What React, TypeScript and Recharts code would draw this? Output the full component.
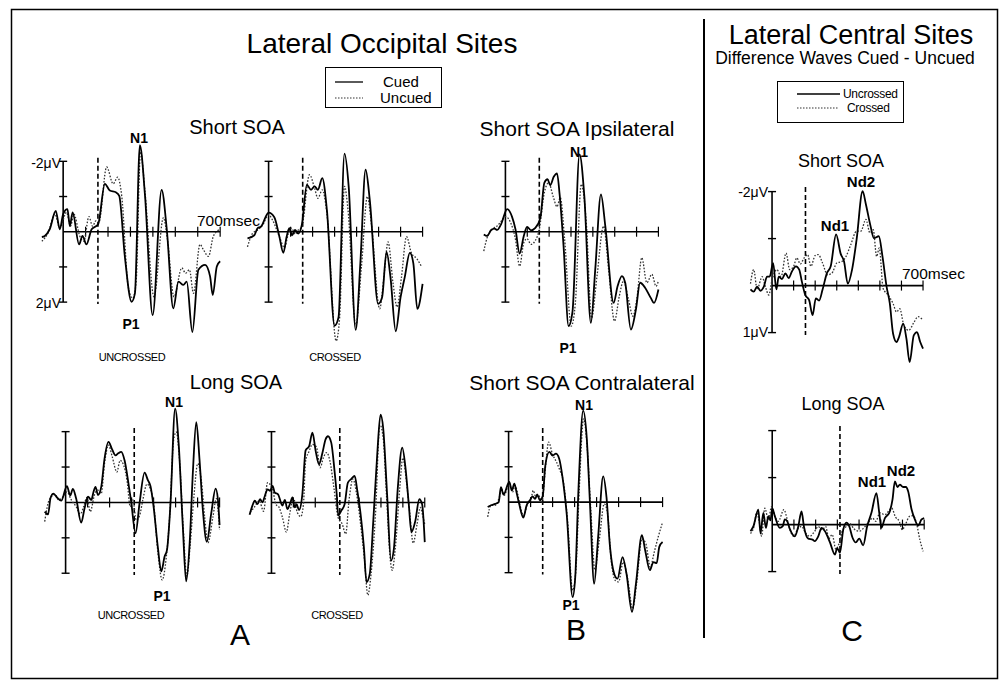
import React from 'react';
import { LineChart, Line, XAxis, YAxis, ReferenceLine } from 'recharts';

type Pt = [number, number];

// ---------- data (time in ms, amplitude in microvolts; negative plotted up) ----------
const timeTicks = [0, 100, 200, 300, 400, 500, 600, 700];
const occipitalVoltTicks = [-2, -1, 1, 2];
const centralVoltTicks = [-2, -1, 1];
const shortSoaMs = 155;
const longSoaMs = 312;

const shortUncrossedCued: Pt[] = [[-95,0.15],[-82,0.12],[-60,-0.07],[-33,-0.59],[-15,-0.07],[0,-0.5],[19,-0.64],[30,-0.16],[42,-0.55],[71,0.36],[86,0.12],[104,0.36],[127,-0.07],[156,-0.21],[186,-1.36],[208,-1.17],[235,-1.12],[250,-1.02],[275,0.7],[305,1.99],[320,1.75],[342,-2.46],[365,-1.02],[399,2.37],[439,-1.19],[462,-0.07],[491,2.18],[514,1.42],[536,1.51],[551,1.42],[576,2.85],[603,1.08],[633,0.94],[655,1.27],[667,1.8],[685,0.99],[700,0.84]];
const shortUncrossedUncued: Pt[] = [[-95,0.27],[-67,0.03],[-37,-0.5],[-15,-0.11],[15,-0.55],[33,-0.16],[48,-0.5],[74,0.12],[92,0.27],[115,-0.43],[131,-0.16],[146,-0.31],[159,-0.26],[194,-1.84],[223,-1.36],[243,-1.55],[261,-1.02],[290,1.56],[310,1.89],[325,1.46],[345,-2.27],[365,-1.12],[405,1.85],[447,-0.4],[465,0.22],[494,1.85],[529,1.03],[546,1.18],[563,1.08],[581,1.75],[610,0.36],[625,0.51],[648,0.7],[670,0.12],[700,-0.07]];

const shortCrossedCued: Pt[] = [[-96,0.19],[-65,0.1],[-50,-0.1],[-35,-0.14],[0,-0.54],[26,-0.41],[49,0.14],[67,0.6],[82,0.14],[94,-0.1],[107,0.1],[120,-0.05],[135,0.05],[151,-0.19],[174,-1.33],[193,-1.19],[209,-1.29],[224,-1.19],[244,-1.52],[265,-0.62],[300,2.67],[318,2.43],[345,-2.22],[364,-1.29],[396,2.79],[417,0.9],[441,-1.76],[460,-0.9],[498,2.05],[516,1.86],[536,0.57],[554,1.29],[578,2.83],[600,1.86],[619,1.29],[642,0.6],[658,0.9],[676,2.19],[700,1.48]];
const shortCrossedUncued: Pt[] = [[-96,0.43],[-73,0.05],[-50,-0.05],[-27,-0.19],[0,-0.48],[18,-0.33],[49,0.14],[72,0.45],[90,0.05],[105,-0.1],[120,0.07],[135,-0.05],[151,-0.14],[186,-1.62],[209,-1.24],[224,-0.95],[244,-1.19],[265,-0.52],[307,3.1],[323,2.43],[345,-1.29],[361,-0.62],[396,2.67],[422,1.0],[449,-1.0],[467,-0.24],[505,2.19],[524,1.29],[543,0.29],[566,1.48],[584,2.14],[604,1.29],[627,0.14],[650,0.62],[673,0.76],[696,1.0]];

const ipsilateralCued: Pt[] = [[-99,0.08],[-84,0.12],[-65,-0.05],[-50,-0.09],[-38,-0.05],[-20,-0.21],[8,-0.64],[30,-0.43],[46,-0.07],[65,0.62],[84,0.12],[99,-0.14],[117,-0.04],[137,-0.11],[160,-0.4],[178,-1.39],[193,-1.49],[205,-1.32],[221,-1.56],[236,-1.66],[248,-1.06],[266,0.41],[289,2.68],[307,2.26],[339,-2.2],[361,-1.01],[391,2.59],[411,1.07],[437,-1.06],[457,-0.16],[495,2.02],[513,1.55],[533,1.26],[548,1.45],[574,2.78],[597,2.21],[616,1.45],[639,1.59],[665,1.88],[680,2.02],[700,1.64]];
const ipsilateralUncued: Pt[] = [[-99,0.55],[-81,0.12],[-61,-0.07],[-38,-0.16],[-15,-0.33],[0,-0.43],[23,-0.27],[46,0.22],[65,0.98],[84,0.31],[99,0.2],[117,0.36],[137,0.25],[155,-0.07],[178,-1.11],[198,-1.39],[218,-1.01],[236,-0.71],[251,-0.97],[271,0.22],[301,2.68],[320,2.02],[347,-1.35],[370,-0.26],[394,2.45],[419,1.26],[449,-0.16],[472,1.07],[499,2.54],[521,1.83],[540,1.4],[563,1.92],[583,2.4],[601,1.92],[624,0.74],[647,1.45],[670,1.21],[689,1.55],[700,1.4]];

const centralShortUncrossed: Pt[] = [[-100,0.08],[-85,0.13],[-69,0.02],[-54,0.11],[-38,0.02],[-23,-0.19],[-11,-0.19],[5,-0.48],[20,0.08],[31,-0.19],[46,-0.14],[62,-0.26],[77,-0.16],[92,-0.3],[111,-0.41],[126,-0.34],[138,-0.09],[154,0.2],[172,0.31],[188,0.63],[203,0.27],[218,0.32],[234,0.09],[254,-0.26],[272,-0.41],[297,-1.09],[318,-0.68],[334,-0.51],[351,-0.04],[371,-0.34],[392,-0.98],[420,-2.01],[435,-1.73],[457,-1.26],[472,-1.01],[495,-1.05],[512,-0.62],[531,0.02],[546,0.38],[561,1.02],[577,1.2],[589,1.09],[608,0.81],[623,1.13],[638,1.63],[657,1.06],[672,0.99],[687,1.2],[700,1.34]];
const centralShortCrossed: Pt[] = [[-100,-0.04],[-85,-0.34],[-69,0.08],[-46,-0.19],[-31,0.02],[-15,0.2],[0,-0.12],[23,-0.34],[42,-0.19],[65,-0.69],[82,-0.34],[100,-0.41],[115,-0.59],[131,-0.46],[149,-0.59],[165,-0.66],[180,-0.41],[200,-0.64],[215,-0.66],[234,-0.48],[257,-0.23],[277,-0.26],[300,-0.48],[323,-0.51],[343,-0.62],[365,-0.87],[392,-1.16],[412,-1.16],[435,-1.41],[454,-1.12],[469,-1.19],[485,-0.62],[497,-0.8],[515,0.06],[538,0.2],[561,0.38],[577,0.56],[592,0.49],[611,0.84],[634,0.95],[657,0.79],[677,0.66],[697,0.72]];

const longUncrossedCued: Pt[] = [[-95,0.26],[-80,0.34],[-68,-0.14],[-55,-0.25],[-39,-0.14],[-20,-0.05],[6,-0.46],[21,-0.2],[33,-0.38],[48,-0.11],[71,0.57],[86,0.17],[102,-0.16],[117,-0.07],[127,-0.3],[136,-0.44],[147,-0.21],[162,-0.44],[177,-1.24],[195,-1.71],[212,-1.49],[227,-1.33],[238,-1.38],[253,-1.43],[268,-1.19],[288,-0.44],[298,-0.02],[318,0.87],[336,0.03],[359,-0.84],[374,-0.63],[386,-0.46],[400,0.12],[420,1.3],[435,1.95],[450,1.53],[461,1.34],[476,0.12],[498,-2.65],[514,-1.66],[533,0.69],[548,2.23],[564,1.15],[579,-0.91],[594,-2.27],[609,-1.19],[624,0.22],[642,1.11],[662,0.31],[682,-0.39],[692,-0.11],[700,0.64]];
const longUncrossedUncued: Pt[] = [[-95,0.54],[-80,0.03],[-62,-0.18],[-47,-0.23],[-32,-0.07],[-12,-0.16],[6,-0.3],[26,-0.07],[48,0.12],[67,0.33],[82,0.12],[97,-0.14],[112,0.26],[132,-0.23],[147,-0.35],[162,-0.25],[177,-1.1],[195,-1.62],[212,-1.29],[233,-0.86],[248,-1.19],[264,-1.05],[279,-0.63],[294,0.12],[306,-0.07],[321,0.5],[336,0.38],[351,-0.07],[370,-0.52],[385,-0.39],[400,0.03],[420,1.44],[439,2.19],[458,1.53],[473,0.4],[491,-1.76],[503,-1.99],[518,-1.19],[536,0.87],[551,2.09],[567,1.15],[582,-0.07],[601,-1.1],[617,-0.63],[632,0.4],[647,1.14],[670,0.4],[685,-0.11],[700,0.78]];

const longCrossedCued: Pt[] = [[-100,0.35],[-87,0.09],[-76,-0.05],[-64,0.05],[-52,-0.09],[-41,0.0],[-30,-0.19],[-18,-0.37],[-6,-0.33],[5,-0.47],[15,-0.28],[30,-0.23],[50,0.09],[61,-0.07],[73,0.19],[85,0.03],[96,-0.14],[106,0.14],[115,0.05],[126,0.22],[141,-0.23],[156,-1.47],[172,-1.59],[187,-1.97],[202,-1.45],[217,-1.08],[232,-1.38],[247,-1.78],[258,-1.87],[273,-1.69],[288,-0.89],[298,-0.23],[305,0.37],[319,0.23],[334,0.05],[349,-0.56],[364,-0.66],[380,-0.75],[392,-0.33],[407,0.33],[422,1.26],[434,2.25],[449,2.01],[465,0.52],[483,-1.36],[498,-2.48],[510,-2.11],[528,-0.23],[546,1.64],[559,1.31],[577,-0.42],[597,-1.55],[612,-0.98],[627,0.05],[639,0.84],[657,0.52],[675,-0.09],[688,0.05],[700,1.12]];
const longCrossedUncued: Pt[] = [[-97,0.28],[-79,0.14],[-56,-0.05],[-36,0.25],[-18,-0.56],[5,-0.37],[20,0.05],[35,0.14],[50,0.42],[68,0.84],[83,0.33],[100,-0.12],[118,0.28],[134,0.4],[146,0.05],[156,-1.17],[172,-1.45],[187,-1.64],[206,-1.56],[222,-0.98],[237,-1.26],[252,-1.41],[267,-1.17],[285,-0.42],[304,0.42],[323,0.61],[339,0.89],[354,-0.05],[372,-0.66],[389,-0.23],[407,0.61],[425,1.64],[440,2.62],[455,2.01],[475,0.33],[495,-2.2],[510,-1.83],[525,-0.23],[543,1.64],[551,1.92],[566,1.26],[586,-0.42],[600,-1.26],[616,-0.61],[632,0.33],[647,1.15],[665,0.61],[680,0.14],[692,0.42],[700,0.61]];

const contralateralCued: Pt[] = [[-95,0.14],[-80,0.09],[-61,0.05],[-45,0.0],[-35,-0.42],[-23,-0.21],[3,-0.57],[15,-0.33],[26,-0.52],[36,-0.28],[48,0.05],[67,0.44],[82,0.09],[97,-0.05],[109,-0.16],[121,-0.09],[130,-0.22],[142,-0.05],[155,-0.16],[167,-1.04],[185,-1.42],[200,-1.32],[215,-1.37],[230,-1.23],[245,-0.71],[264,0.33],[291,2.69],[303,2.12],[318,-0.42],[339,-2.59],[355,-1.84],[370,0.05],[389,2.31],[407,0.99],[430,-0.73],[445,-0.14],[461,1.27],[480,2.03],[495,2.17],[518,1.56],[536,2.03],[561,3.11],[579,2.31],[606,0.94],[621,1.37],[642,1.93],[658,1.7],[673,1.73],[685,1.27],[700,1.13]];
const contralateralUncued: Pt[] = [[-95,0.42],[-80,0.09],[-61,0.09],[-42,-0.14],[-32,-0.38],[-20,-0.19],[3,-0.52],[18,-0.28],[29,-0.47],[41,-0.24],[52,0.09],[68,0.38],[86,0.05],[102,-0.09],[112,-0.33],[124,-0.14],[136,-0.19],[152,0.0],[167,-0.94],[182,-1.7],[200,-1.35],[218,-1.13],[233,-0.9],[248,-0.61],[268,0.52],[291,2.5],[306,1.93],[321,-0.33],[341,-2.36],[356,-1.65],[374,0.24],[392,1.93],[412,1.08],[435,0.05],[450,0.33],[465,1.56],[485,2.22],[500,2.26],[521,1.7],[541,2.17],[564,3.02],[582,2.31],[606,1.04],[624,1.18],[644,1.84],[662,1.42],[680,0.99],[700,0.57]];

const centralLongUncrossed: Pt[] = [[-100,0.14],[-87,0.04],[-64,-0.32],[-54,0.19],[-41,-0.25],[-29,0.07],[-18,-0.18],[-8,-0.09],[0,-0.35],[12,-0.18],[35,0.07],[48,0.04],[58,-0.11],[69,-0.07],[81,0.09],[104,0.25],[120,0.04],[135,-0.28],[146,0.04],[166,0.3],[186,0.32],[196,0.35],[212,0.25],[227,0.07],[243,0.14],[266,0.38],[289,0.64],[299,0.5],[312,0.6],[327,0.11],[342,-0.04],[355,0.04],[370,0.28],[385,0.38],[401,0.3],[419,0.44],[437,0.04],[457,-0.25],[480,-0.67],[493,-0.25],[503,0.07],[519,-0.14],[539,-0.25],[554,-0.53],[565,-0.92],[577,-0.8],[588,-0.85],[603,-0.8],[616,-0.8],[626,-0.71],[642,-0.32],[657,-0.11],[672,0.02],[688,-0.11],[700,-0.14]];
const centralLongCrossed: Pt[] = [[-100,0.19],[-84,0.04],[-72,-0.25],[-60,-0.07],[-49,0.25],[-34,-0.35],[-18,-0.11],[-3,-0.38],[12,-0.18],[28,-0.07],[54,-0.32],[69,-0.11],[84,0.14],[100,0.25],[115,0.11],[135,0.04],[155,0.19],[173,0.25],[196,0.14],[212,0.04],[230,0.11],[246,0.04],[261,0.3],[276,0.21],[293,0.52],[309,0.39],[324,0.12],[342,0.04],[358,-0.02],[376,0.09],[401,0.14],[422,0.07],[442,-0.04],[462,-0.14],[477,-0.07],[496,-0.25],[519,-0.21],[550,-0.35],[568,-0.16],[585,-0.07],[599,0.11],[611,0.02],[634,-0.18],[649,-0.19],[664,-0.04],[680,0.32],[695,0.57]];

// ---------- layout ----------
const FONT = '"Liberation Sans", Arial, Helvetica, sans-serif';

type PanelCfg = {
  x0: number; y0: number; sx: number; sy: number;
  vMin: number; vMax: number; axisBottom: number; vTicks: number[];
  soa: number; solid: Pt[]; dotted: Pt[];
};

const panels: PanelCfg[] = [
  { x0: 63, y0: 232, sx: 0.2243, sy: 35.2, vMin: -3.6, vMax: 3.6, axisBottom: 2, vTicks: occipitalVoltTicks, soa: shortSoaMs, solid: shortUncrossedCued, dotted: shortUncrossedUncued },
  { x0: 269, y0: 232, sx: 0.22, sy: 35.2, vMin: -3.6, vMax: 3.6, axisBottom: 2, vTicks: occipitalVoltTicks, soa: shortSoaMs, solid: shortCrossedCued, dotted: shortCrossedUncued },
  { x0: 505, y0: 232, sx: 0.2186, sy: 35.2, vMin: -3.6, vMax: 3.6, axisBottom: 2, vTicks: occipitalVoltTicks, soa: shortSoaMs, solid: ipsilateralCued, dotted: ipsilateralUncued },
  { x0: 772, y0: 286, sx: 0.2157, sy: 47, vMin: -2.8, vMax: 2.2, axisBottom: 1, vTicks: centralVoltTicks, soa: shortSoaMs, solid: centralShortUncrossed, dotted: centralShortCrossed },
  { x0: 66, y0: 502, sx: 0.22, sy: 35.4, vMin: -3.6, vMax: 3.6, axisBottom: 2, vTicks: occipitalVoltTicks, soa: longSoaMs, solid: longUncrossedCued, dotted: longUncrossedUncued },
  { x0: 271, y0: 502, sx: 0.219, sy: 35.4, vMin: -3.6, vMax: 3.6, axisBottom: 2, vTicks: occipitalVoltTicks, soa: longSoaMs, solid: longCrossedCued, dotted: longCrossedUncued },
  { x0: 509, y0: 502, sx: 0.22, sy: 35.3, vMin: -3.6, vMax: 3.6, axisBottom: 2, vTicks: occipitalVoltTicks, soa: shortSoaMs, solid: contralateralCued, dotted: contralateralUncued },
  { x0: 772, y0: 525, sx: 0.2171, sy: 47, vMin: -2.8, vMax: 2.2, axisBottom: 1, vTicks: centralVoltTicks, soa: longSoaMs, solid: centralLongUncrossed, dotted: centralLongCrossed },
];

const toRows = (pts: Pt[]) => pts.map(([t, v]) => ({ t, v }));

function Panel({ cfg }: { cfg: PanelCfg }) {
  const tMin = -130;
  const tMax = 730;
  const width = (tMax - tMin) * cfg.sx;
  const height = (cfg.vMax - cfg.vMin) * cfg.sy;
  const left = cfg.x0 + tMin * cfg.sx;
  const top = cfg.y0 + cfg.vMin * cfg.sy;
  const tickV = 5 / cfg.sy;
  const tickT = 4 / cfg.sx;
  return (
    <div style={{ position: 'absolute', left, top, width, height }}>
      <LineChart width={width} height={height} margin={{ top: 0, right: 0, bottom: 0, left: 0 }}>
        <XAxis type="number" dataKey="t" domain={[tMin, tMax]} hide allowDataOverflow />
        <YAxis type="number" dataKey="v" domain={[cfg.vMin, cfg.vMax]} reversed hide allowDataOverflow />
        <ReferenceLine segment={[{ x: 0, y: 0 }, { x: 700, y: 0 }]} stroke="#000" strokeWidth={1.6} ifOverflow="visible" />
        <ReferenceLine segment={[{ x: 0, y: -2 }, { x: 0, y: cfg.axisBottom }]} stroke="#000" strokeWidth={1.6} ifOverflow="visible" />
        {timeTicks.filter((t) => t > 0).map((t) => (
          <ReferenceLine key={'xt' + t} segment={[{ x: t, y: -tickV }, { x: t, y: tickV }]} stroke="#000" strokeWidth={1.2} ifOverflow="visible" />
        ))}
        {cfg.vTicks.map((v) => (
          <ReferenceLine key={'yt' + v} segment={[{ x: -tickT, y: v }, { x: tickT, y: v }]} stroke="#000" strokeWidth={1.4} ifOverflow="visible" />
        ))}
        <ReferenceLine segment={[{ x: cfg.soa, y: -2.1 }, { x: cfg.soa, y: cfg.axisBottom + 0.05 }]} stroke="#000" strokeWidth={1.6} strokeDasharray="5 3" ifOverflow="visible" />
        <Line data={toRows(cfg.dotted)} dataKey="v" type="monotone" stroke="#333" strokeWidth={1.3} strokeDasharray="1.6 1.6" dot={false} isAnimationActive={false} />
        <Line data={toRows(cfg.solid)} dataKey="v" type="monotone" stroke="#000" strokeWidth={1.8} dot={false} isAnimationActive={false} />
      </LineChart>
    </div>
  );
}

function T({ x, y, s, a = 'middle', w = 'normal', children, ls }: { x: number; y: number; s: number; a?: 'start' | 'middle' | 'end'; w?: string; children: React.ReactNode; ls?: number }) {
  return (
    <text x={x} y={y} fontSize={s} textAnchor={a} fontWeight={w} fontFamily={FONT} fill="#000" letterSpacing={ls}>
      {children}
    </text>
  );
}

export default function App() {
  return (
    <div style={{ position: 'absolute', left: 0, top: 0, width: 1006, height: 684, background: '#fff', overflow: 'hidden' }}>
      {panels.map((p, i) => (
        <Panel key={i} cfg={p} />
      ))}
      <svg width={1006} height={684} style={{ position: 'absolute', left: 0, top: 0, pointerEvents: 'none' }}>
        <rect x={11.5} y={9.5} width={986} height={669} fill="none" stroke="#000" strokeWidth={1.5} />
        <line x1={704} y1={19} x2={704} y2={638} stroke="#000" strokeWidth={2} />

        <T x={382} y={53} s={28}>Lateral Occipital Sites</T>
        <rect x={325.5} y={67.5} width={116} height={40} fill="none" stroke="#000" strokeWidth={1} />
        <line x1={335} y1={82} x2={363} y2={82} stroke="#000" strokeWidth={1.3} />
        <line x1={335} y1={98} x2={363} y2={98} stroke="#333" strokeWidth={1.2} strokeDasharray="1.5 1.5" />
        <T x={383} y={87} s={15} a="start">Cued</T>
        <T x={380} y={103} s={15} a="start">Uncued</T>

        <T x={237} y={134} s={20}>Short SOA</T>
        <T x={577} y={136} s={21}>Short SOA Ipsilateral</T>
        <T x={236} y={389} s={20}>Long SOA</T>
        <T x={582} y={390} s={21}>Short SOA Contralateral</T>

        <T x={61} y={168} s={14} a="end">-2μV</T>
        <T x={61} y={308} s={14} a="end">2μV</T>
        <T x={197} y={226} s={15.5} a="start">700msec</T>

        <T x={139} y={143} s={14} w="bold">N1</T>
        <T x={131} y={329} s={14} w="bold">P1</T>
        <T x={579} y={157} s={14} w="bold">N1</T>
        <T x={568} y={353} s={14} w="bold">P1</T>
        <T x={174} y={407} s={14} w="bold">N1</T>
        <T x={162} y={601} s={14} w="bold">P1</T>
        <T x={584} y={410} s={14} w="bold">N1</T>
        <T x={571} y={610} s={14} w="bold">P1</T>

        <T x={132} y={361} s={11} ls={-0.4}>UNCROSSED</T>
        <T x={335} y={361} s={11} ls={-0.4}>CROSSED</T>
        <T x={131} y={619} s={11} ls={-0.4}>UNCROSSED</T>
        <T x={337} y={619} s={11} ls={-0.4}>CROSSED</T>

        <T x={240} y={645} s={30}>A</T>
        <T x={576} y={640} s={30}>B</T>
        <T x={852} y={641} s={30}>C</T>

        <T x={851} y={44} s={27}>Lateral Central Sites</T>
        <T x={845} y={64} s={17.5}>Difference Waves Cued - Uncued</T>
        <rect x={777.5} y={81.5} width={126} height={41} fill="none" stroke="#000" strokeWidth={1} />
        <line x1={797} y1={94} x2={840} y2={94} stroke="#000" strokeWidth={1.3} />
        <line x1={797} y1={108} x2={838} y2={108} stroke="#333" strokeWidth={1.2} strokeDasharray="1.5 1.5" />
        <T x={843} y={98} s={12} a="start" ls={-0.3}>Uncrossed</T>
        <T x={847} y={112} s={12} a="start" ls={-0.3}>Crossed</T>

        <T x={841} y={167} s={18}>Short SOA</T>
        <T x={843} y={410} s={18}>Long SOA</T>
        <T x={768} y={197} s={14} a="end">-2μV</T>
        <T x={768} y={337} s={14} a="end">1μV</T>
        <T x={902} y={279} s={15.5} a="start">700msec</T>
        <T x={835} y={231} s={15} w="bold">Nd1</T>
        <T x={861} y={187} s={15} w="bold">Nd2</T>
        <T x={872} y={487} s={15} w="bold">Nd1</T>
        <T x={901} y={476} s={15} w="bold">Nd2</T>
      </svg>
    </div>
  );
}
